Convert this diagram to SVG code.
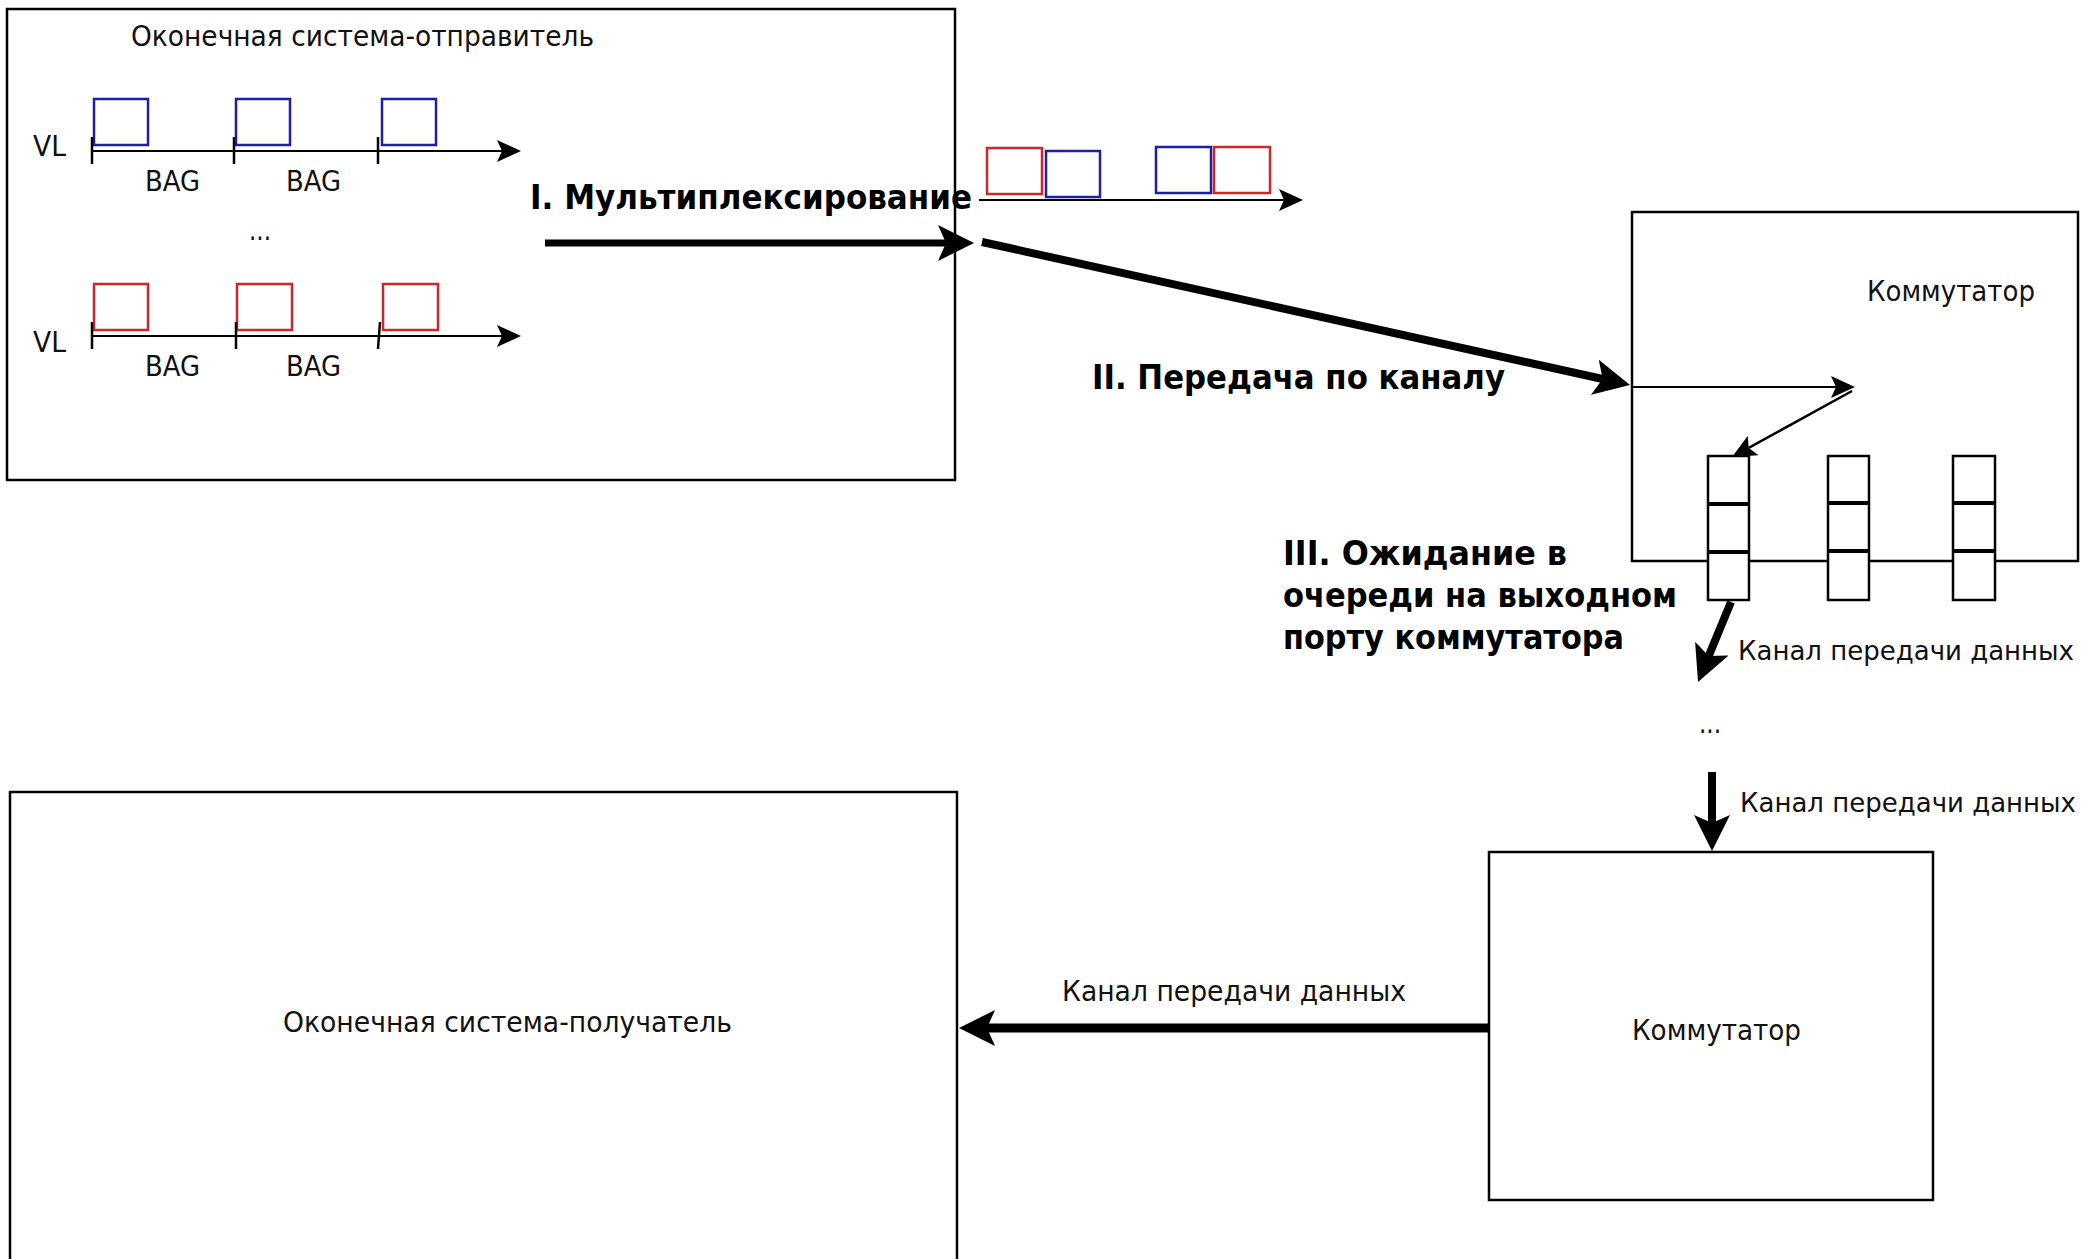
<svg xmlns="http://www.w3.org/2000/svg" width="2089" height="1259" viewBox="0 0 2089 1259">
<style>
  .box { fill: #ffffff; stroke: #000000; stroke-width: 2.5; }
  .q { fill: #ffffff; stroke: #000000; stroke-width: 2.5; }
  .div { stroke: #000000; stroke-width: 4; }
  .tick { stroke: #000000; stroke-width: 2.5; }
  .blue { fill: none; stroke: #1f1fa5; stroke-width: 2.5; }
  .red { fill: none; stroke: #d0262b; stroke-width: 2.5; }
  .t { font-family: "DejaVu Sans", "Noto Sans", sans-serif; font-size: 29px; fill: #111111; }
  .tr { font-family: "DejaVu Sans", "Noto Sans", sans-serif; font-size: 26.5px; fill: #111111; }
  .b { font-family: "DejaVu Sans", "Noto Sans", sans-serif; font-size: 33px; font-weight: bold; fill: #000000; }
  .thin { fill: none; stroke: #000000; stroke-width: 2.2; }
  .thick { fill: none; stroke: #000000; stroke-width: 8; }
</style>
<defs>
  <marker id="headL" markerUnits="userSpaceOnUse" markerWidth="36" markerHeight="36" refX="8" refY="18" orient="auto">
    <path d="M0,0 L36,18 L0,36 L8,18 Z" fill="#000000"/>
  </marker>
  <marker id="headS" markerUnits="userSpaceOnUse" markerWidth="24" markerHeight="22" refX="5" refY="11" orient="auto">
    <path d="M0,0 L24,11 L0,22 L5,11 Z" fill="#000000"/>
  </marker>
</defs>
<rect width="2089" height="1259" fill="#ffffff"/>

<g id="sender">
  <rect class="box" x="7" y="9" width="948" height="471"/>
  <text class="t" x="131" y="46" textLength="463" lengthAdjust="spacingAndGlyphs">Оконечная система-отправитель</text>
  <text class="t" x="33" y="156" textLength="33" lengthAdjust="spacingAndGlyphs">VL</text>
  <rect class="blue" x="94" y="99" width="54" height="46"/>
  <rect class="blue" x="236" y="99" width="54" height="46"/>
  <rect class="blue" x="382" y="99" width="54" height="46"/>
  <line class="tick" x1="92" y1="137" x2="92" y2="164"/>
  <line class="tick" x1="234" y1="137" x2="234" y2="164"/>
  <line class="tick" x1="378" y1="137" x2="378" y2="164"/>
  <text class="t" x="145" y="191" textLength="55" lengthAdjust="spacingAndGlyphs">BAG</text>
  <text class="t" x="286" y="191" textLength="55" lengthAdjust="spacingAndGlyphs">BAG</text>
  <text class="t" x="249" y="240" textLength="22" lengthAdjust="spacingAndGlyphs">...</text>
  <text class="t" x="33" y="352" textLength="33" lengthAdjust="spacingAndGlyphs">VL</text>
  <rect class="red" x="94" y="284" width="54" height="46"/>
  <rect class="red" x="237" y="284" width="55" height="46"/>
  <rect class="red" x="383" y="284" width="55" height="46"/>
  <line class="tick" x1="92" y1="322" x2="92" y2="349"/>
  <line class="tick" x1="236" y1="322" x2="236" y2="349"/>
  <line class="tick" x1="380" y1="322" x2="378" y2="349"/>
  <text class="t" x="145" y="376" textLength="55" lengthAdjust="spacingAndGlyphs">BAG</text>
  <text class="t" x="286" y="376" textLength="55" lengthAdjust="spacingAndGlyphs">BAG</text>
</g>

<g id="multiplexed-stream">
  <rect class="red" x="987" y="148" width="55" height="46"/>
  <rect class="blue" x="1046" y="151" width="54" height="46"/>
  <rect class="blue" x="1156" y="147" width="55" height="46"/>
  <rect class="red" x="1214" y="147" width="56" height="46"/>
</g>

<g id="switch1">
  <rect class="box" x="1632" y="212" width="446" height="349"/>
  <text class="t" x="1867" y="301" textLength="168" lengthAdjust="spacingAndGlyphs">Коммутатор</text>
  <g id="queue1">
    <rect class="q" x="1708" y="456" width="41" height="144"/>
    <line class="div" x1="1708" y1="504" x2="1749" y2="504"/>
    <line class="div" x1="1708" y1="552" x2="1749" y2="552"/>
  </g>
  <g id="queue2">
    <rect class="q" x="1828" y="456" width="41" height="144"/>
    <line class="div" x1="1828" y1="503" x2="1869" y2="503"/>
    <line class="div" x1="1828" y1="551" x2="1869" y2="551"/>
  </g>
  <g id="queue3">
    <rect class="q" x="1953" y="456" width="42" height="144"/>
    <line class="div" x1="1953" y1="503" x2="1995" y2="503"/>
    <line class="div" x1="1953" y1="551" x2="1995" y2="551"/>
  </g>
</g>

<g id="switch2">
  <rect class="box" x="1489" y="852" width="444" height="348"/>
  <text class="t" x="1632" y="1040" textLength="169" lengthAdjust="spacingAndGlyphs">Коммутатор</text>
</g>

<g id="receiver">
  <rect class="box" x="10" y="792" width="947" height="490"/>
  <text class="t" x="283" y="1032" textLength="449" lengthAdjust="spacingAndGlyphs">Оконечная система-получатель</text>
</g>

<g id="connectors">
  <line class="thin" x1="92" y1="151" x2="502" y2="151" marker-end="url(#headS)"/>
  <line class="thin" x1="92" y1="336" x2="502" y2="336" marker-end="url(#headS)"/>
  <line class="thin" x1="979" y1="200" x2="1284" y2="200" marker-end="url(#headS)"/>
  <line class="thick" style="stroke-width:7" x1="545" y1="243" x2="946" y2="243" marker-end="url(#headL)"/>
  <line class="thick" x1="982" y1="242" x2="1602.7" y2="379" marker-end="url(#headL)"/>
  <line class="thin" x1="1632" y1="387" x2="1836" y2="387" marker-end="url(#headS)"/>
  <line class="thin" style="stroke-width:2.5" x1="1852" y1="391" x2="1748.7" y2="447.9" marker-end="url(#headS)"/>
  <line class="thick" x1="1731" y1="602" x2="1708.7" y2="656.1" marker-end="url(#headL)"/>
  <line class="thick" x1="1712" y1="772" x2="1712" y2="823" marker-end="url(#headL)"/>
  <line class="thick" style="stroke-width:9" x1="1489" y1="1028" x2="987" y2="1028" marker-end="url(#headL)"/>
</g>

<g id="labels">
  <text class="b" x="530" y="209" textLength="442" lengthAdjust="spacingAndGlyphs">I. Мультиплексирование</text>
  <text class="b" x="1092" y="389" textLength="413" lengthAdjust="spacingAndGlyphs">II. Передача по каналу</text>
  <text class="b" x="1283" y="565" textLength="284" lengthAdjust="spacingAndGlyphs">III. Ожидание в</text>
  <text class="b" x="1283" y="607" textLength="394" lengthAdjust="spacingAndGlyphs">очереди на выходном</text>
  <text class="b" x="1283" y="649" textLength="341" lengthAdjust="spacingAndGlyphs">порту коммутатора</text>
  <text class="tr" x="1738" y="660" textLength="336" lengthAdjust="spacingAndGlyphs">Канал передачи данных</text>
  <text class="t" x="1699" y="733" textLength="22" lengthAdjust="spacingAndGlyphs">...</text>
  <text class="tr" x="1740" y="812" textLength="336" lengthAdjust="spacingAndGlyphs">Канал передачи данных</text>
  <text class="t" x="1062" y="1001" textLength="344" lengthAdjust="spacingAndGlyphs">Канал передачи данных</text>
</g>
</svg>
